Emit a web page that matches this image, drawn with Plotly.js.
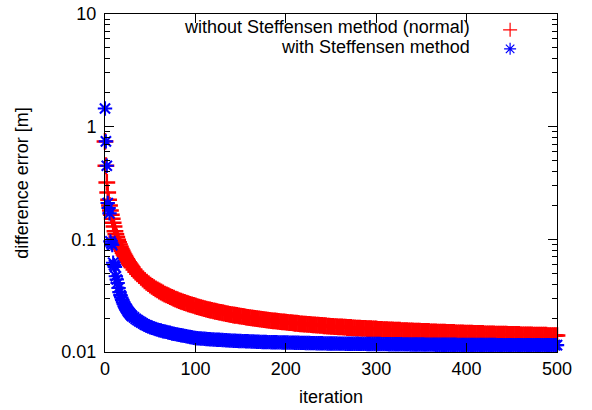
<!DOCTYPE html>
<html>
<head>
<meta charset="utf-8">
<script src="https://cdn.plot.ly/plotly-3.0.1.min.js"></script>
<style>html,body{margin:0;padding:0;background:#fff;}#chart{width:592px;height:410px;}</style>
</head>
<body>
<div id="chart"></div>
<script>
// iteration numbers sampled
var iterations = [0,1,2,3,4,5,6,7,8,9,10,11,12,13,14,15,16,17,18,19,20,21,22,23,24,25,26,27,28,29,30,
  32,34,36,38,40,42,44,46,48,50,52,54,56,58,60,62,64,66,68,70,72,74,76,78,80,82,84,86,88,90,92,94,96,98,100,
  102,104,106,108,110,112,114,116,118,120,122,124,126,128,130,132,134,136,138,140,
  142,144,146,148,150,152,154,156,158,160,162,164,166,168,170,172,174,176,178,180,
  182,184,186,188,190,192,194,196,198,200,202,204,206,208,210,212,214,216,218,220,
  222,224,226,228,230,232,234,236,238,240,242,244,246,248,250,252,254,256,258,260,
  262,264,266,268,270,272,274,276,278,280,282,284,286,288,290,292,294,296,298,300,
  302,304,306,308,310,312,314,316,318,320,322,324,326,328,330,332,334,336,338,340,
  342,344,346,348,350,352,354,356,358,360,362,364,366,368,370,372,374,376,378,380,
  382,384,386,388,390,392,394,396,398,400,402,404,406,408,410,412,414,416,418,420,
  422,424,426,428,430,432,434,436,438,440,442,444,446,448,450,452,454,456,458,460,
  462,464,466,468,470,472,474,476,478,480,482,484,486,488,490,492,494,496,498,500];

// difference error without Steffensen method (normal)
var errorNormal = [0.74,0.45,0.32,0.26,0.225,0.2,0.18,0.165,0.152,0.14,0.13,0.118,0.111,0.105,0.099,0.094,0.09,0.086,0.082,0.079,0.076,0.0735,0.071,0.0687,0.0666,0.0646,0.0627,0.061,0.0594,0.0579,0.0565,
  0.0539,0.0515,0.0495,0.0476,0.0459,0.0443,0.0429,0.0416,0.0404,0.0393,0.0383,0.0373,0.0364,0.0356,0.0348,0.0341,0.0334,0.0327,0.0321,0.0316,0.031,0.0305,0.03,0.0295,0.0291,0.0286,0.0282,0.0279,0.0275,0.0271,0.0268,0.0265,0.0262,0.0259,0.0256,
  0.0253,0.025,0.0248,0.0245,0.0243,0.024,0.0238,0.0236,0.0234,0.0232,0.023,0.0228,0.0226,0.0225,0.0223,0.0221,0.0219,0.0218,0.0216,0.0215,
  0.0213,0.0212,0.0211,0.0209,0.0208,0.0207,0.0206,0.0204,0.0203,0.0202,0.0201,0.02,0.0199,0.0198,0.0197,0.0196,0.0195,0.0194,0.0193,0.0192,
  0.0191,0.019,0.0189,0.0189,0.0188,0.0187,0.0186,0.0185,0.0185,0.0184,
  0.0183,0.0182,0.0182,0.0181,0.018,0.018,0.0179,0.0178,0.0178,0.0177,0.0177,0.0176,0.0176,0.0175,0.0174,0.0174,0.0173,0.0173,0.0172,0.0172,
  0.0171,0.0171,0.017,0.017,0.0169,0.0169,0.0168,0.0168,0.0167,0.0167,0.0167,0.0166,0.0166,0.0165,0.0165,0.0165,0.0164,0.0164,0.0163,0.0163,
  0.0163,0.0162,0.0162,0.0162,0.0161,0.0161,0.0161,0.016,0.016,0.016,
  0.0159,0.0159,0.0159,0.0158,0.0158,0.0158,0.0157,0.0157,0.0157,0.0156,0.0156,0.0156,0.0156,0.0155,0.0155,0.0155,0.0155,0.0154,0.0154,0.0154,
  0.0153,0.0153,0.0153,0.0153,0.0152,0.0152,0.0152,0.0152,0.0152,0.0151,0.0151,0.0151,0.0151,0.015,0.015,0.015,0.015,0.015,0.0149,0.0149,
  0.0149,0.0149,0.0149,0.0148,0.0148,0.0148,0.0148,0.0148,0.0147,0.0147,
  0.0147,0.0147,0.0147,0.0146,0.0146,0.0146,0.0146,0.0146,0.0146,0.0145,0.0145,0.0145,0.0145,0.0145,0.0145,0.0144,0.0144,0.0144,0.0144,0.0144,
  0.0144,0.0144,0.0143,0.0143,0.0143,0.0143,0.0143,0.0143,0.0143,0.0142,0.0142,0.0142,0.0142,0.0142,0.0142,0.0142,0.0141,0.0141,0.0141,0.0141,
  0.0141,0.0141,0.0141,0.0141,0.014,0.014,0.014,0.014,0.014,0.014];

// difference error with Steffensen method
var errorSteffensen = [1.45,0.74,0.45,0.21,0.19,0.17,0.096,0.092,0.089,0.062,0.059,0.057,0.047,0.044,0.041,0.037,0.034,0.032,0.0305,0.029,0.0275,0.0265,0.0255,0.0247,0.024,0.0233,0.0227,0.0222,0.0217,0.0212,0.0208,
  0.0203,0.0197,0.0192,0.0187,0.0183,0.0179,0.0175,0.0172,0.0169,0.0166,
  0.0164,0.0162,0.016,0.0158,0.0156,0.0155,0.0153,0.0152,0.0151,0.0149,
  0.0148,0.0146,0.0145,0.0144,0.0143,0.0142,0.0141,0.014,0.0139,0.0138,
  0.0137,0.0136,0.0135,0.0134,0.0133,
  0.01326,0.01322,0.01318,0.01314,0.0131,0.01306,0.01302,0.01298,0.01295,0.01292,
  0.01289,0.01286,0.01283,0.0128,0.01277,0.01274,0.01271,0.01268,0.01265,0.01262,
  0.0126,0.01258,0.01256,0.01254,0.01252,0.0125,0.01248,0.01246,0.01244,0.01242,
  0.0124,0.01238,0.01236,0.01234,0.01232,0.0123,0.01228,0.01226,0.01225,0.01224,
  0.01223,0.01222,0.01221,0.0122,0.01219,0.01218,0.01217,0.01216,0.01215,0.01214,
  0.01213,0.01212,0.01211,0.0121,0.01209,0.01208,0.01207,0.01206,0.01205,0.01204,
  0.01203,0.01202,0.01201,0.012,0.01199,0.01198,0.01197,0.01196,0.01195,0.01194,
  0.01193,0.01192,0.01191,0.0119,0.01189,0.01189,0.01188,0.01188,0.01187,0.01187,
  0.01186,0.01186,0.01185,0.01185,0.01184,0.01184,0.01183,0.01183,0.01182,0.01182,
  0.01181,0.01181,0.0118,0.0118,0.01179,0.01179,0.01178,0.01178,0.01177,0.01177,
  0.01176,0.01176,0.01175,0.01175,0.01174,0.01174,0.01173,0.01173,0.01172,0.01172,
  0.01171,0.01171,0.0117,0.0117,0.01169,0.01169,0.01168,0.01168,0.01167,0.01167,
  0.01166,0.01166,0.01165,0.01165,0.01164,0.01164,0.01163,0.01163,0.01163,0.01162,
  0.01162,0.01162,0.01161,0.01161,0.01161,0.0116,0.0116,0.0116,0.01159,0.01159,
  0.01159,0.01158,0.01158,0.01158,0.01157,0.01157,0.01157,0.01156,0.01156,0.01156,
  0.01156,0.01155,0.01155,0.01155,0.01155,0.01155,0.01154,0.01154,0.01154,0.01154,
  0.01154,0.01153,0.01153,0.01153,0.01153,0.01153,0.01152,0.01152,0.01152,0.01152,
  0.01152,0.01151,0.01151,0.01151,0.01151,0.01151,0.0115,0.0115,0.0115,0.0115,
  0.0115,0.0115,0.0115,0.0115,0.0115,0.0115,0.0115,0.0115,0.0115,0.0115,
  0.0115,0.0115,0.0115,0.0115,0.0115,0.0115,0.0115,0.0115,0.0115,0.0115];

var seriesNames = ['without Steffensen method (normal)', 'with Steffensen method'];
var xTicks = [0,100,200,300,400,500];
var yTicks = [0.01,0.1,1,10];
var yTickText = ['0.01','0.1','1','10'];
var yMinor = [0.02,0.03,0.04,0.05,0.06,0.07,0.08,0.09,0.2,0.3,0.4,0.5,0.6,0.7,0.8,0.9,2,3,4,5,6,7,8,9];

var traces = [
  {x: iterations, y: errorNormal, type: 'scatter', mode: 'markers', name: seriesNames[0],
   cliponaxis: false, showlegend: false,
   marker: {symbol: 'cross-thin-open', size: 12, color: '#ff0000', line: {color: '#ff0000', width: 2.5}}},
  {x: iterations, y: errorSteffensen, type: 'scatter', mode: 'markers', name: seriesNames[1],
   cliponaxis: false, showlegend: false,
   marker: {symbol: 'asterisk-open', size: 12, color: '#0000ff', line: {color: '#0000ff', width: 2.1}}},
  // legend keys (a single missing value, so only the legend symbol is drawn; labels are annotations)
  {x: [null], y: [null], type: 'scatter', mode: 'markers', name: ' ', showlegend: true,
   marker: {symbol: 'cross-thin-open', size: 10, color: '#ff0000', line: {color: '#ff0000', width: 1.2}}},
  {x: [null], y: [null], type: 'scatter', mode: 'markers', name: ' ', showlegend: true,
   marker: {symbol: 'asterisk-open', size: 10, color: '#0000ff', line: {color: '#0000ff', width: 1.2}}}
];

var layout = {
  width: 592, height: 410,
  margin: {l: 105, r: 35, t: 14, b: 58},
  paper_bgcolor: '#ffffff', plot_bgcolor: '#ffffff',
  font: {family: 'Liberation Sans, Arial, sans-serif', size: 18, color: '#000000'},
  showlegend: true,
  legend: {x: 0.852, y: 0.996, xanchor: 'left', yanchor: 'top', bgcolor: 'rgba(0,0,0,0)',
           font: {size: 8}, tracegroupgap: 0, itemsizing: 'trace'},
  xaxis: {range: [0, 500], tickmode: 'array', tickvals: xTicks, ticks: 'inside', ticklen: 9,
          tickcolor: '#000', showline: true, linecolor: '#000', linewidth: 1, mirror: 'allticks',
          showgrid: false, zeroline: false, automargin: false,
          title: {text: 'iteration', standoff: 12, font: {size: 18}}},
  yaxis: {type: 'log', range: [-2, 1], tickmode: 'array', tickvals: yTicks, ticktext: yTickText,
          ticks: 'inside', ticklen: 9, tickcolor: '#000', showline: true, linecolor: '#000', linewidth: 1,
          mirror: 'allticks', showgrid: false, zeroline: false, automargin: false,
          ticklabelstandoff: 4,
          minor: {tickmode: 'array', tickvals: yMinor, ticks: 'inside', ticklen: 5, tickcolor: '#000', showgrid: false},
          title: {text: 'difference error [m]', standoff: 28, font: {size: 18}}},
  annotations: [
    {xref: 'paper', yref: 'paper', x: 0.812, y: 0.9615, xanchor: 'right', yanchor: 'middle',
     text: seriesNames[0], showarrow: false, font: {size: 18}},
    {xref: 'paper', yref: 'paper', x: 0.812, y: 0.902, xanchor: 'right', yanchor: 'middle',
     text: seriesNames[1], showarrow: false, font: {size: 18}}
  ]
};

Plotly.newPlot('chart', traces, layout, {displayModeBar: false, staticPlot: true});
</script>
</body>
</html>
